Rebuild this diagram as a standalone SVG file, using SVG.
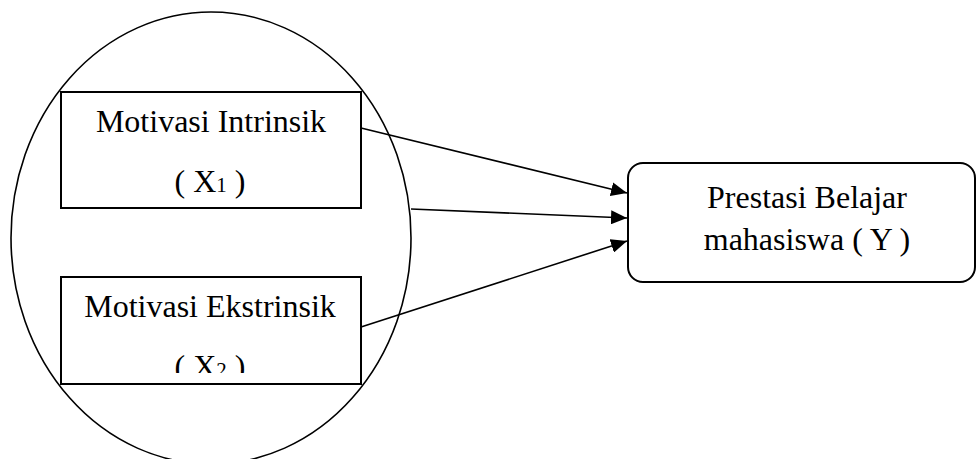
<svg xmlns="http://www.w3.org/2000/svg" width="977" height="459" viewBox="0 0 977 459">
<style>
.t{font-family:"Liberation Serif","Times New Roman",serif;font-size:32px;fill:#000;text-anchor:middle}
.sub{font-size:21px}
.box{fill:#fff;stroke:#000;stroke-width:2}
.conn{stroke:#000;stroke-width:1.6;fill:none}
</style>
<defs>
<marker id="arr" markerWidth="16" markerHeight="14" refX="16" refY="7" orient="auto" markerUnits="userSpaceOnUse">
<path d="M0,0 L16,7 L0,14 Z" fill="#000"/>
</marker>
<clipPath id="clip2"><rect x="61" y="277" width="300" height="96"/></clipPath>
</defs>
<rect width="977" height="459" fill="#fff"/>
<g id="group-x">
<ellipse cx="211" cy="238" rx="200" ry="226" fill="none" stroke="#000" stroke-width="1.6"/>
</g>
<g id="node-x1">
<rect class="box" x="61" y="92" width="300" height="116" fill="none" style="fill:none"/>
<text class="t" x="211" y="132">Motivasi Intrinsik</text>
<text class="t" x="210" y="192">( X<tspan class="sub">1</tspan> )</text>
</g>
<g id="node-x2">
<rect class="box" x="61" y="277" width="300" height="107" style="fill:none"/>
<text class="t" x="210" y="317">Motivasi Ekstrinsik</text>
<text class="t" x="210" y="377" clip-path="url(#clip2)">( X<tspan class="sub">2</tspan> )</text>
</g>
<g id="node-y">
<rect class="box" x="628" y="163" width="347" height="119" rx="15" ry="15"/>
<text class="t" x="807" y="208">Prestasi Belajar</text>
<text class="t" x="807" y="250">mahasiswa ( Y )</text>
</g>
<g id="connectors">
<line class="conn" x1="361" y1="128" x2="627" y2="193" marker-end="url(#arr)"/>
<line class="conn" x1="411" y1="209" x2="627" y2="218" marker-end="url(#arr)"/>
<line class="conn" x1="361" y1="327" x2="627" y2="241" marker-end="url(#arr)"/>
</g>
</svg>
